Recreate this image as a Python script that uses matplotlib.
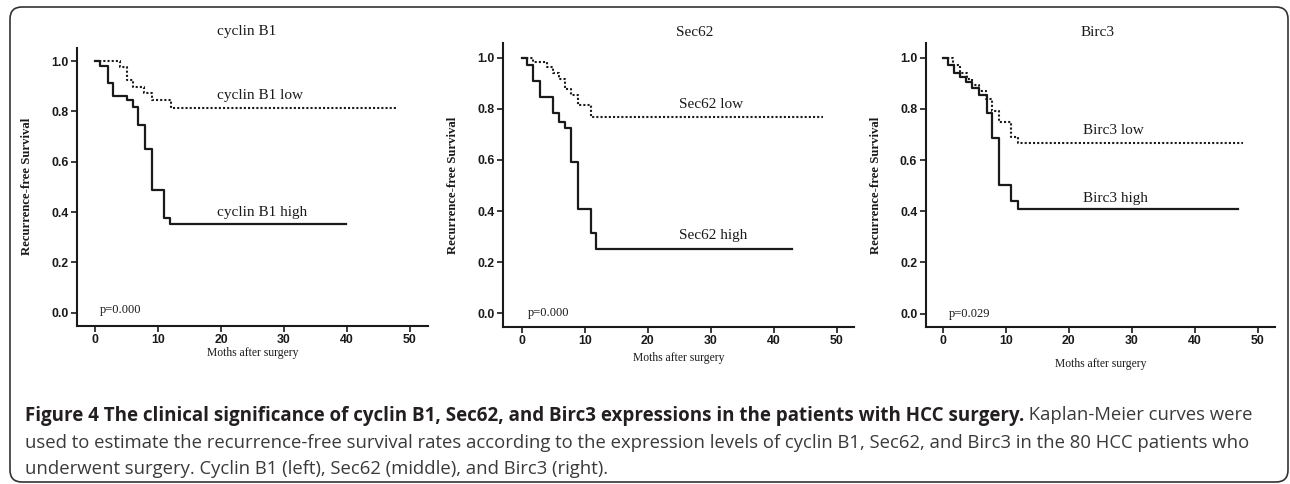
import matplotlib
matplotlib.use("Agg")
import matplotlib.pyplot as plt
from matplotlib.patches import FancyBboxPatch

# Kaplan-Meier step data (months, survival)
cyclin_low_t = [0, 4.0, 5.0, 6.0, 7.8, 9.0, 12.0, 47.9]
cyclin_low_s = [1.0, 0.977, 0.925, 0.896, 0.872, 0.846, 0.815, 0.815]
cyclin_high_t = [0, 0.8, 2.0, 2.9, 5.0, 6.0, 6.9, 7.9, 9.0, 11.0, 11.9, 39.9]
cyclin_high_s = [1.0, 0.98, 0.911, 0.862, 0.845, 0.819, 0.746, 0.652, 0.489, 0.375, 0.351, 0.351]

sec62_low_t = [0, 1.85, 4.0, 4.9, 6.0, 6.9, 7.9, 8.9, 11.0, 47.9]
sec62_low_s = [1.0, 0.982, 0.965, 0.941, 0.917, 0.876, 0.854, 0.815, 0.769, 0.769]
sec62_high_t = [0, 0.9, 1.85, 2.9, 5.0, 6.0, 6.9, 7.9, 8.9, 11.0, 11.8, 42.9]
sec62_high_s = [1.0, 0.971, 0.91, 0.845, 0.782, 0.75, 0.724, 0.593, 0.407, 0.313, 0.25, 0.25]

birc3_low_t = [0, 1.7, 2.8, 3.8, 4.7, 5.8, 6.9, 7.9, 8.9, 10.9, 11.9, 47.7]
birc3_low_s = [1.0, 0.97, 0.94, 0.915, 0.895, 0.87, 0.84, 0.79, 0.75, 0.69, 0.665, 0.665]
birc3_high_t = [0, 0.9, 1.85, 2.75, 3.65, 4.7, 5.75, 7.0, 7.9, 9.0, 10.9, 12.0, 46.9]
birc3_high_s = [1.0, 0.971, 0.941, 0.926, 0.906, 0.88, 0.854, 0.782, 0.688, 0.502, 0.439, 0.407, 0.407]

panel_titles = ["cyclin B1", "Sec62", "Birc3"]
p_values = ["p=0.000", "p=0.000", "p=0.029"]
x_ticks = [0, 10, 20, 30, 40, 50]
y_ticks = [0.0, 0.2, 0.4, 0.6, 0.8, 1.0]

caption_bold = ("Figure 4 The clinical significance of cyclin B1, Sec62, and Birc3 "
                "expressions in the patients with HCC surgery.")
caption_line1 = " Kaplan-Meier curves were"
caption_line2 = ("used to estimate the recurrence-free survival rates according to the "
                 "expression levels of cyclin B1, Sec62, and Birc3 in the 80 HCC patients who")
caption_line3 = "underwent surgery. Cyclin B1 (left), Sec62 (middle), and Birc3 (right)."

W, H = 1290, 484
SERIF = "Liberation Serif"
SANS = "Liberation Sans"
INK = "#1a1a1a"

panels = [
    dict(box=(77, 428, 47.7, 326), xlim=(-2.86, 52.86), ylim=(-0.053, 1.053),
         low=(cyclin_low_t, cyclin_low_s), high=(cyclin_high_t, cyclin_high_s),
         low_pos=(19.3, 0.863), high_pos=(19.3, 0.40), p_pos=(0.8, 0.01),
         title_pos=(24.1, 1.116), xlabel_y=-0.098),
    dict(box=(503.3, 854, 43.3, 326.7), xlim=(-2.92, 52.75), ylim=(-0.052, 1.056),
         low=(sec62_low_t, sec62_low_s), high=(sec62_high_t, sec62_high_s),
         low_pos=(24.9, 0.815), high_pos=(24.9, 0.306), p_pos=(0.95, 0.0),
         title_pos=(27.5, 1.097), xlabel_y=-0.112),
    dict(box=(925.7, 1275, 43.3, 327), xlim=(-2.7, 52.75), ylim=(-0.052, 1.056),
         low=(birc3_low_t, birc3_low_s), high=(birc3_high_t, birc3_high_s),
         low_pos=(22.2, 0.715), high_pos=(22.2, 0.45), p_pos=(0.9, 0.0),
         title_pos=(24.6, 1.097), xlabel_y=-0.13),
]

fig = plt.figure(figsize=(W / 100, H / 100), dpi=100)

for i, panel in enumerate(panels):
    left, right, top, bottom = panel["box"]
    ax = fig.add_axes([left / W, 1 - bottom / H, (right - left) / W, (bottom - top) / H])
    ax.step(*panel["low"], where="post", color=INK, linewidth=1.5, linestyle=(0, (1.0, 1.0)))
    ax.step(*panel["high"], where="post", color=INK, linewidth=1.6)
    ax.set_xlim(panel["xlim"])
    ax.set_ylim(panel["ylim"])
    for side in ("top", "right"):
        ax.spines[side].set_visible(False)
    for side in ("left", "bottom"):
        ax.spines[side].set_linewidth(1.5)
        ax.spines[side].set_color(INK)
    ax.set_xticks(x_ticks)
    ax.set_yticks(y_ticks)
    ax.set_xticklabels([str(t) for t in x_ticks])
    ax.set_yticklabels([f"{t:.1f}" for t in y_ticks])
    ax.tick_params(direction="out", length=4.5, width=1.2, color=INK, pad=1.5)
    for label in ax.get_xticklabels() + ax.get_yticklabels():
        label.set_fontfamily(SANS)
        label.set_fontweight("bold")
        label.set_fontsize(8.8)
        label.set_color(INK)

    ax.set_ylabel("Recurrence-free Survival", family=SERIF, fontweight="bold", fontsize=9.2, color=INK)
    ax.yaxis.set_label_coords(-0.125, 0.5)
    ax.set_xlabel("Moths after surgery", family=SERIF, fontsize=8.4, color=INK)
    ax.xaxis.set_label_coords(0.5, panel["xlabel_y"])
    ax.xaxis.label.set_va("center")

    name = panel_titles[i]
    ax.text(*panel["title_pos"], name, family=SERIF, fontsize=11, ha="center", va="center",
            color=INK, clip_on=False)
    ax.text(*panel["low_pos"], name + " low", family=SERIF, fontsize=11, ha="left", va="center",
            color=INK)
    ax.text(*panel["high_pos"], name + " high", family=SERIF, fontsize=11, ha="left", va="center",
            color=INK)
    ax.text(*panel["p_pos"], p_values[i], family=SERIF, fontsize=9, ha="left", va="center",
            color=INK)

# rounded frame around the figure
frame = FancyBboxPatch((0.10, 0.02), 12.78, 4.75, boxstyle="round,pad=0,rounding_size=0.12",
                       transform=fig.dpi_scale_trans, facecolor="none", edgecolor="#333333",
                       linewidth=1.2)
fig.patches.append(frame)

bold_size = 13.5
text_size = 13.3
bold = fig.text(25 / W, 1 - 420.5 / H, caption_bold, family="Open Sans", fontweight="bold",
                fontsize=bold_size, color="#231f20", ha="left", va="baseline")
fig.canvas.draw()
bb = bold.get_window_extent()
fig.text(bb.x1 / W, 1 - 420.5 / H, caption_line1, family="Open Sans", fontsize=text_size,
         color="#3a3a3a", ha="left", va="baseline")
fig.text(25 / W, 1 - 447.5 / H, caption_line2, family="Open Sans", fontsize=text_size,
         color="#3a3a3a", ha="left", va="baseline")
fig.text(25 / W, 1 - 474.5 / H, caption_line3, family="Open Sans", fontsize=text_size,
         color="#3a3a3a", ha="left", va="baseline")

fig.savefig("out.png", dpi=100)
plt.close(fig)
